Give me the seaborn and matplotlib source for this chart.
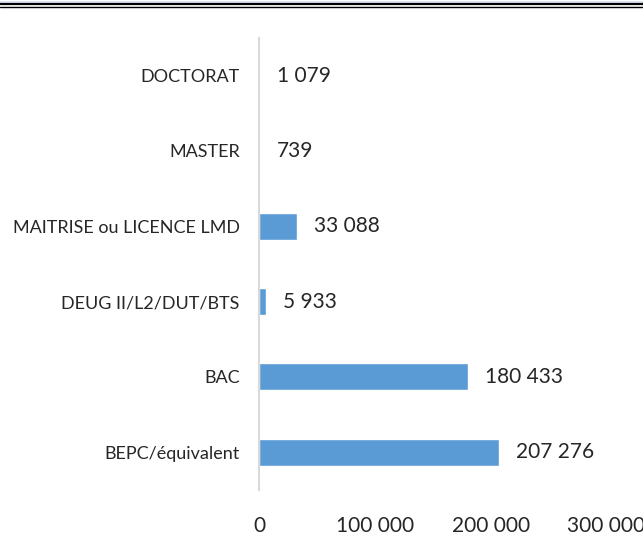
import pandas as pd
import seaborn as sns
import matplotlib.pyplot as plt
from matplotlib.lines import Line2D

# données
niveaux = ["DOCTORAT", "MASTER", "MAITRISE ou LICENCE LMD",
           "DEUG II/L2/DUT/BTS", "BAC", "BEPC/équivalent"]
effectifs = [1079, 739, 33088, 5933, 180433, 207276]
ticks_x = [0, 100000, 200000, 300000]

df = pd.DataFrame({"Niveau": niveaux, "Effectif": effectifs})

sns.set_style("white")
plt.rcParams['font.family'] = ['Lato', 'DejaVu Sans']

fig = plt.figure(figsize=(6.43, 5.51), dpi=100)
ax = fig.add_axes([0.403, 0.111, 0.54, 0.82])

sns.barplot(data=df, x="Effectif", y="Niveau", orient="h",
            color="#5B9BD5", saturation=1, width=0.36, ax=ax)

def fmt(v):
    return f"{int(v):,}".replace(",", " ")

ax.bar_label(ax.containers[0], labels=[fmt(v) for v in effectifs],
             padding=12, fontsize=15)

ax.set_xlim(0, 300000)
ax.set_xticks(ticks_x)
ax.set_xticklabels([fmt(t) for t in ticks_x], fontsize=15)
ax.tick_params(axis="x", length=0, pad=19)
ax.tick_params(axis="y", length=0, pad=14, labelsize=13)
ax.set_xlabel("")
ax.set_ylabel("")
for s in ["top", "right", "bottom"]:
    ax.spines[s].set_visible(False)
ax.spines["left"].set_color("#D9D9D9")
ax.spines["left"].set_linewidth(1.5)

# bordure en haut
fig.add_artist(Line2D([0, 1], [1 - 1.5 / 551] * 2, color="#DCE6F2", lw=2.2,
                      transform=fig.transFigure))
fig.add_artist(Line2D([0, 1], [1 - 4.2 / 551] * 2, color="black", lw=1.6,
                      transform=fig.transFigure))
fig.add_artist(Line2D([0, 1], [1 - 7 / 551] * 2, color="black", lw=1.0,
                      transform=fig.transFigure))

fig.savefig("out.png", dpi=100)
